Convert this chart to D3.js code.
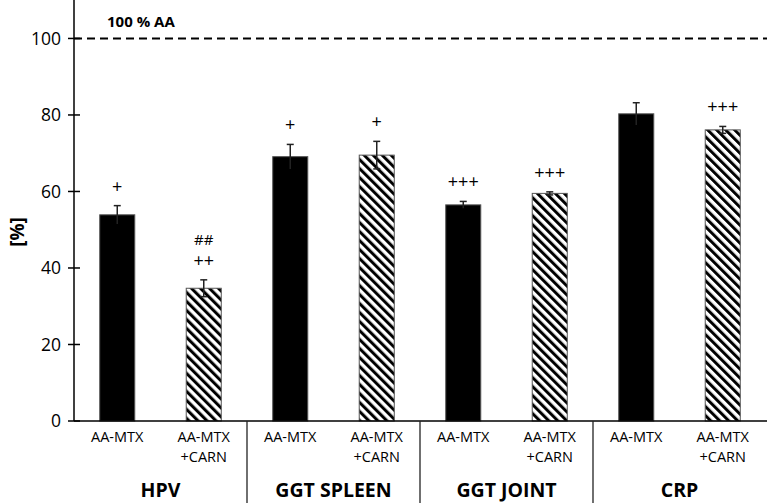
<!DOCTYPE html>
<html><head><meta charset="utf-8">
<script src="https://cdn.jsdelivr.net/npm/d3@7"></script>
<style>body{margin:0;background:#fff}svg{display:block}text{font-family:"Open Sans",sans-serif;fill:#000}</style>
</head><body><svg id="c" width="767" height="503"></svg>
<script>
const groups = ["HPV", "GGT SPLEEN", "GGT JOINT", "CRP"];
const treatments = ["AA-MTX", "AA-MTX +CARN"];
const mtxMeans = [53.9, 69.1, 56.5, 80.3];
const mtxSD = [2.4, 3.2, 0.9, 2.9];
const carnMeans = [34.7, 69.5, 59.5, 76.1];
const carnSD = [2.2, 3.6, 0.4, 0.9];
const mtxSig = ["+", "+", "+++", ""];
const carnSig = ["++", "+", "+++", "+++"];
const carnSig2 = ["##", "", "", ""];
const yTicks = [0, 20, 40, 60, 80, 100];
const refValue = 100;
const refLabel = "100 % AA";
const yLabel = "[%]";

const svg = d3.select("#c");
const W = 767, H = 503;
const x0 = 74, yBase = 421;

const rows = [];
groups.forEach((g, i) => {
  rows.push({g, gi: i, t: 0, key: g + "|0", mean: mtxMeans[i], sd: mtxSD[i], sig: [mtxSig[i]]});
  rows.push({g, gi: i, t: 1, key: g + "|1", mean: carnMeans[i], sd: carnSD[i], sig: [carnSig[i], carnSig2[i]]});
});

const x = d3.scaleBand().domain(rows.map(d => d.key)).range([x0, 766])
  .paddingInner(0.595).paddingOuter(0.2975);
const y = d3.scaleLinear().domain([0, 110]).range([yBase, 0.2]);

const defs = svg.append("defs");
const pat = defs.append("pattern").attr("id", "hatch").attr("patternUnits", "userSpaceOnUse")
  .attr("width", 6.36).attr("height", 6.36).attr("patternTransform", "rotate(-45)");
pat.append("rect").attr("width", 6.36).attr("height", 6.36).attr("fill", "#fff");
pat.append("rect").attr("x", 0).attr("y", 0).attr("width", 3).attr("height", 6.36).attr("fill", "#000");

// reference dashed line
svg.append("line").attr("x1", x0).attr("x2", W).attr("y1", y(refValue)).attr("y2", y(refValue))
  .attr("stroke", "#000").attr("stroke-width", 2).attr("stroke-dasharray", "8,5");
svg.append("text").attr("x", 107).attr("y", 27).attr("font-size", 15).attr("font-weight", 700).text(refLabel);

// bars
svg.selectAll("rect.bar").data(rows).join("rect").attr("class", "bar")
  .attr("x", d => x(d.key)).attr("width", x.bandwidth())
  .attr("y", d => y(d.mean)).attr("height", d => y(0) - y(d.mean))
  .attr("fill", d => d.t === 0 ? "#000" : "url(#hatch)")
  .attr("stroke", "#555").attr("stroke-width", 1);

// error bars
const eb = svg.selectAll("g.eb").data(rows).join("g").attr("class", "eb")
  .attr("stroke", "#222").attr("stroke-width", 1.5);
eb.append("line").attr("x1", d => x(d.key) + x.bandwidth() / 2).attr("x2", d => x(d.key) + x.bandwidth() / 2)
  .attr("y1", d => y(d.mean - d.sd)).attr("y2", d => y(d.mean + d.sd));
eb.append("line").attr("x1", d => x(d.key) + x.bandwidth() / 2 - 3.5).attr("x2", d => x(d.key) + x.bandwidth() / 2 + 3.5)
  .attr("y1", d => y(d.mean + d.sd)).attr("y2", d => y(d.mean + d.sd));
eb.filter(d => d.t === 1).append("line").attr("x1", d => x(d.key) + x.bandwidth() / 2 - 3.5).attr("x2", d => x(d.key) + x.bandwidth() / 2 + 3.5)
  .attr("y1", d => y(d.mean - d.sd)).attr("y2", d => y(d.mean - d.sd));

// significance marks
rows.forEach(d => {
  d.sig.forEach((s, k) => {
    if (!s) return;
    svg.append("text").attr("x", x(d.key) + x.bandwidth() / 2).attr("y", y(d.mean + d.sd) - 13 - k * 22)
      .attr("text-anchor", "middle").attr("font-size", s.startsWith("#") ? 15 : 18).text(s);
  });
});

// y axis
svg.append("line").attr("x1", x0).attr("x2", x0).attr("y1", 0).attr("y2", yBase).attr("stroke", "#000").attr("stroke-width", 1.5);
const yt = svg.selectAll("g.yt").data(yTicks).join("g").attr("class", "yt");
yt.append("line").attr("x1", x0 - 6).attr("x2", x0 + 6).attr("y1", d => y(d)).attr("y2", d => y(d)).attr("stroke", "#000").attr("stroke-width", 1.5);
yt.append("text").attr("x", 61).attr("y", d => y(d)).attr("dy", "0.36em").attr("text-anchor", "end").attr("font-size", 17.5).text(d => d);
svg.append("text").attr("transform", "translate(17,232) rotate(-90)").attr("text-anchor", "middle")
  .attr("dy", "0.35em").attr("font-size", 19).attr("font-weight", 700).text(yLabel);

// x baseline
svg.append("line").attr("x1", x0).attr("x2", W).attr("y1", yBase).attr("y2", yBase).attr("stroke", "#000").attr("stroke-width", 1.5);

// treatment labels
rows.forEach(d => {
  const parts = treatments[d.t].split(" ");
  const cx = x(d.key) + x.bandwidth() / 2;
  parts.forEach((p, k) => {
    svg.append("text").attr("x", cx).attr("y", 442 + k * 19.5).attr("text-anchor", "middle").attr("font-size", 14.5).text(p);
  });
});

// group labels and separators
groups.forEach((g, i) => {
  const a = x(g + "|0") + x.bandwidth() / 2, b = x(g + "|1") + x.bandwidth() / 2;
  svg.append("text").attr("x", (a + b) / 2).attr("y", 497).attr("text-anchor", "middle")
    .attr("font-size", 19.5).attr("font-weight", 700).text(g);
  if (i > 0) {
    const sx = x(g + "|0") - x.step() * x.paddingInner() / 2;
    svg.append("line").attr("x1", sx).attr("x2", sx).attr("y1", yBase).attr("y2", H).attr("stroke", "#222").attr("stroke-width", 1.3);
  }
});
</script></body></html>
